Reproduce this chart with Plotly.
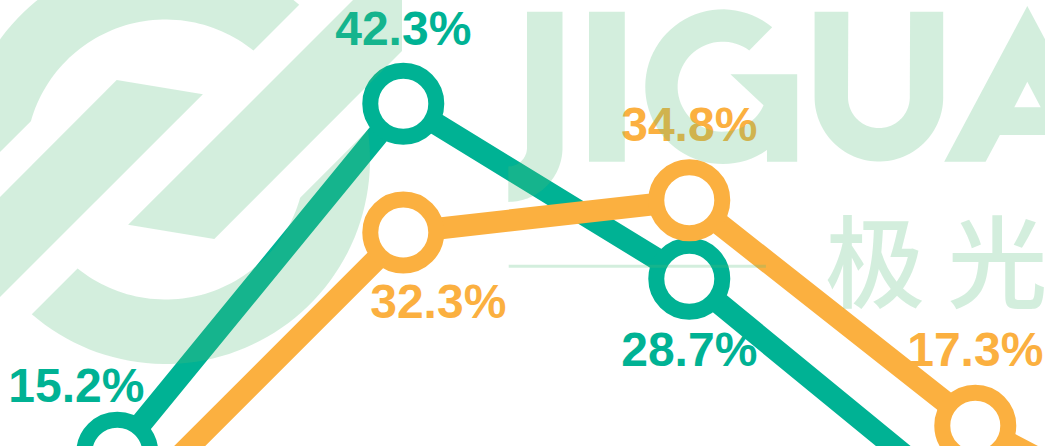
import numpy as np
import plotly.graph_objects as go

# ---------------- data ----------------
periods = ["P1", "P2", "P3", "P4", "P5"]
green_values = [15.2, 42.3, 28.7, 10.5]
orange_values = [10.1, 32.3, 34.8, 17.3, 5.7]
green_labels = [f"{v}%" for v in green_values]
orange_labels = [f"{v}%" for v in orange_values]

# ---------------- style ----------------
GREEN = "#00b294"
ORANGE = "#fbb040"
WM = "rgba(82,188,122,0.255)"
W, H = 1045, 446
X_RANGE = [-0.4101, 3.2438]
Y_RANGE = [15.720, 50.353]
PX_X = W / (X_RANGE[1] - X_RANGE[0])
PX_Y = H / (Y_RANGE[1] - Y_RANGE[0])
# label offsets in pixels (dx right, dy down)
green_off = [(-41, -63), (0, -71), (0, 75), (0, 72)]
orange_off = [(0, 72), (35, 74), (0, -71), (0, -72), (0, 72)]
LABEL_FONT = dict(family="Liberation Sans, Arial, sans-serif", size=48, weight="bold")

fig = go.Figure()


def add_series(values, labels, offs, color):
    xs = list(range(len(values)))
    fig.add_trace(go.Scatter(
        x=xs, y=values, mode="lines+markers",
        line=dict(color=color, width=22),
        marker=dict(size=66, color="white", line=dict(color=color, width=16)),
        cliponaxis=True, hoverinfo="skip"))
    fig.add_trace(go.Scatter(
        x=[x + o[0] / PX_X for x, o in zip(xs, offs)],
        y=[v - o[1] / PX_Y for v, o in zip(values, offs)],
        text=labels, mode="text", textposition="middle center",
        textfont=dict(color=color, **LABEL_FONT), cliponaxis=True,
        hoverinfo="skip"))


add_series(green_values, green_labels, green_off, GREEN)
add_series(orange_values, orange_labels, orange_off, ORANGE)

# ---------------- watermark (pixel geometry -> paper coords) ----------------
def pp(pt):
    return f"{pt[0] / W:.5f},{1 - pt[1] / H:.5f}"


def path(*polys):
    s = ""
    for poly in polys:
        s += "M" + "L".join(pp(p) for p in poly) + "Z"
    return s


def arc(cx, cy, r, a0, a1, n=60):
    a = np.radians(np.linspace(a0, a1, n))
    return [(cx + r * np.cos(t), cy - r * np.sin(t)) for t in a]


shapes = []


def add_shape(p):
    shapes.append(dict(type="path", path=p, xref="paper", yref="paper",
                       fillcolor=WM, line=dict(width=0), layer="above"))


# logo
CX, CY, RO, RI = 165.5, 159.5, 204.5, 140.0


def cut_point(c, r, sign):
    s = CX + CY - c
    t = sign * np.sqrt((r * r - s * s / 2) / 2)
    return (CX - s / 2 + t, CY - s / 2 - t)


def ang(p):
    return np.degrees(np.arctan2(-(p[1] - CY), p[0] - CX))


oR = cut_point(304, RO, 1); oL = cut_point(152, RO, -1)
iR = cut_point(304, RI, 1); iL = cut_point(152, RI, -1)
aoR, aoL = ang(oR), ang(oL) % 360
aiR, aiL = ang(iR), ang(iL) % 360
upper = arc(CX, CY, RO, aoR, aoL) + arc(CX, CY, RI, aiL, aiR)
# bar 1
cap_a = (116.7, 80.0)
slope = 0.164
xb = (297 - cap_a[1] + slope * cap_a[0]) / (1 + slope)
cap_b = (xb, cap_a[1] + slope * (xb - cap_a[0]))
xl = 2 * CX - 402
bar1 = [cap_a, cap_b, (xl, 297 - xl), (xl, 197 - xl)]


def reflect(poly):
    return [(2 * CX - x, 2 * CY - y) for x, y in poly]


for poly in (upper, reflect(upper), bar1, reflect(bar1)):
    add_shape(path(poly))

# letters
TOP, BASE = 11.7, 161.7
J = [(527, TOP), (562.5, TOP), (562.5, 147.7)] + \
    [(508.3 + 54.2 * np.cos(t), 147.7 + 54.2 * np.sin(t)) for t in np.radians(np.linspace(0, 90, 40))] + \
    [(508.3 + 18.7 * np.cos(t), 147.7 + 18.7 * np.sin(t)) for t in np.radians(np.linspace(90, 0, 30))]
I = [(589, TOP), (624.8, TOP), (624.8, BASE), (589, BASE)]
gcx, gcy = 722.6, 86.7
G = arc(gcx, gcy, 77.35, 50.1, 305) + [(767, BASE), (797.2, BASE), (797.2, 74.3), (730.4, 74.3)] + \
    arc(gcx, gcy, 45, 335.5, 53.7)
ucx, ucy = 878.9, 97.2
U = [(814.6, TOP)] + arc(ucx, ucy, 64.3, 180, 360) + [(943.2, TOP), (910.1, TOP)] + \
    arc(ucx, ucy, 30.9, 360, 180) + [(848.3, TOP)]
A_out = [(1027.3, 6), (1110.4, BASE), (1069, BASE), (1054.7, 135), (999.9, 135), (985.6, BASE), (944.2, BASE)]
A_in = [(1027.3, 81.7), (1014.3, 107.3), (1040.7, 107.3)]
for poly in (J, I, G, U):
    add_shape(path(poly))
add_shape(path(A_out, A_in))

# rule line under letters
shapes.append(dict(type="line", xref="paper", yref="paper",
                   x0=508.7 / W, x1=765.9 / W, y0=1 - 266.3 / H, y1=1 - 266.3 / H,
                   line=dict(color=WM, width=3), layer="above"))

fig.update_layout(
    width=W, height=H, margin=dict(l=0, r=0, t=0, b=0),
    paper_bgcolor="white", plot_bgcolor="white", showlegend=False,
    xaxis=dict(range=X_RANGE, visible=False, fixedrange=True),
    yaxis=dict(range=Y_RANGE, visible=False, fixedrange=True),
    shapes=shapes,
    annotations=[dict(text="极 光", xref="paper", yref="paper", x=823 / W, y=1 - 256 / H,
                      xanchor="left", yanchor="middle", showarrow=False,
                      font=dict(family="Noto Sans CJK SC", size=100, color=WM, weight=500))],
)

fig.write_html("out.html", config={"displayModeBar": False},
               post_script="document.body.style.margin='0';document.body.style.overflow='hidden';")
